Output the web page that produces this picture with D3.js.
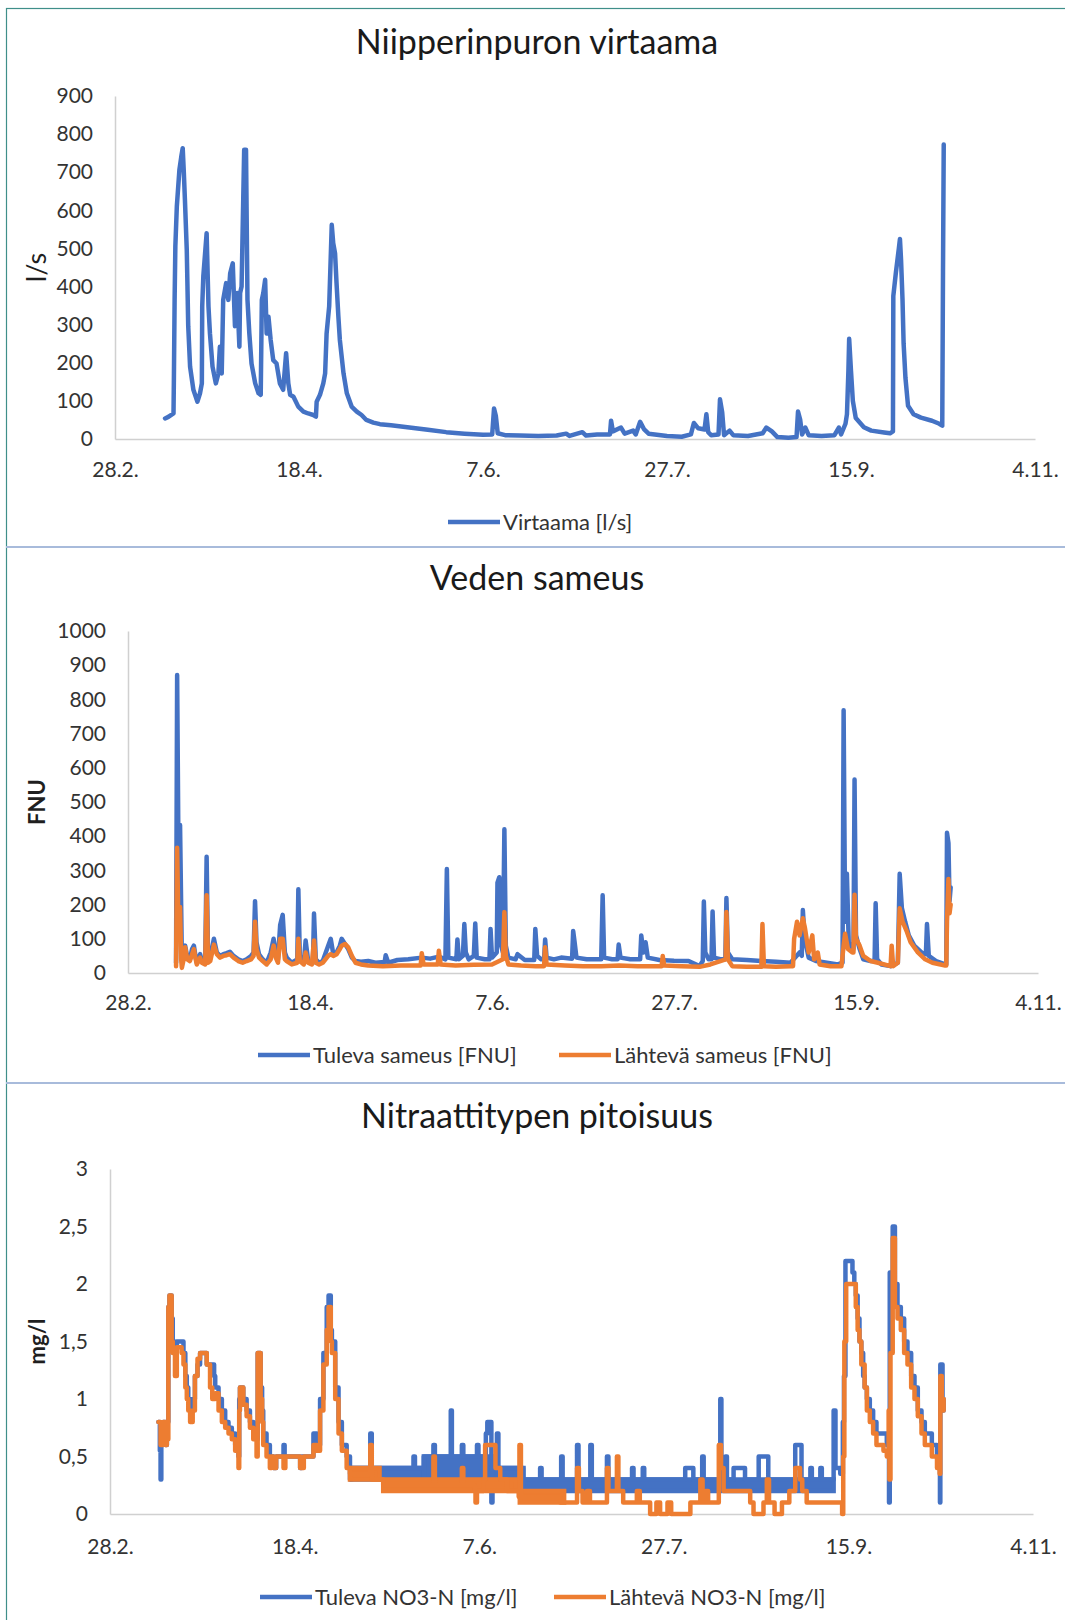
<!DOCTYPE html>
<html>
<head>
<meta charset="utf-8">
<script src="https://cdn.jsdelivr.net/npm/d3@7/dist/d3.min.js"></script>
<style>
  body { margin: 0; background: #fff; }
  svg { display: block; font-family: Lato, 'Open Sans', sans-serif; }
  .axis path, .axis line { stroke: #d0d0d0; stroke-width: 1.5px; }
  .axis text { fill: #333; font-size: 21px; font-family: Lato, sans-serif; }
  .series { fill: none; stroke-linejoin: round; stroke-linecap: round; }
  .title { font-size: 34px; fill: #1a1a1a; text-anchor: middle; }
  .ylabel { fill: #1f1f1f; text-anchor: middle; }
  .legend text { font-size: 22px; fill: #333; }
</style>
</head>
<body>
<script>
// days counted from 28.2. (2020)
var xTickDays   = [0, 50, 100, 150, 200, 250];
var xTickLabels = ['28.2.', '18.4.', '7.6.', '27.7.', '15.9.', '4.11.'];

var flowTicks     = [0, 100, 200, 300, 400, 500, 600, 700, 800, 900];
var turbTicks     = [0, 100, 200, 300, 400, 500, 600, 700, 800, 900, 1000];
var nitrateTicks  = [0, 0.5, 1, 1.5, 2, 2.5, 3];
var nitrateLabels = ['0', '0,5', '1', '1,5', '2', '2,5', '3'];

var titles  = ['Niipperinpuron virtaama', 'Veden sameus', 'Nitraattitypen pitoisuus'];
var yLabels = ['l/s', 'FNU', 'mg/l'];
var seriesNames = ['Virtaama [l/s]', 'Tuleva sameus [FNU]', 'Lähtevä sameus [FNU]',
                   'Tuleva NO3-N [mg/l]', 'Lähtevä NO3-N [mg/l]'];

// [day, l/s]
var flow = [
  [13.6,54],[14.5,58],[15.9,67],[16.0,155],[16.2,365],[16.4,505],[16.8,610],[17.5,706],[18.0,740],[18.4,763],
  [18.7,700],[19.0,628],[19.5,497],[19.9,296],[20.4,190],[21.3,129],[22.4,98],[23.1,120],[23.6,146],[23.7,348],
  [24.0,427],[24.9,540],[25.4,348],[25.8,277],[26.5,190],[27.4,146],[28.1,172],[28.5,242],[29.0,172],[29.4,365],
  [30.2,409],[30.8,365],[31.3,435],[32.0,461],[32.6,296],[33.2,383],[33.8,242],[34.0,383],[34.4,400],[35.1,759],
  [35.6,759],[36.0,365],[36.5,277],[37.1,198],[38.1,146],[39.0,120],[39.6,116],[39.9,365],[40.3,383],[40.8,418],
  [41.2,277],[41.7,321],[42.3,260],[43.0,207],[43.9,198],[44.8,146],[45.7,129],[46.5,225],[47.1,146],[47.6,116],
  [48.5,111],[49.8,85],[51.2,72],[52.5,67],[53.9,63],[54.6,59],[54.8,98],[55.7,116],[56.6,146],[57.1,172],
  [57.5,277],[58.2,348],[58.9,562],[59.3,514],[59.8,487],[60.2,409],[60.7,321],[61.1,260],[62.1,172],[63.0,120],
  [64.3,85],[65.7,72],[67.0,63],[68.3,50],[70.2,43],[72.0,39],[75,36],[80,30],[85,24],[90,18],[95,14],[100,11],
  [102.5,12],[103,80],[103.5,60],[104,15],[106,10],[110,9],[115,8],[120,9],[122.6,14],[123.5,8],[127,18],[128,9],
  [131,12],[134.5,12],[134.8,48],[135.3,20],[137.5,30],[138.5,14],[140.8,22],[141.5,12],[142.7,45],[143.8,25],
  [145,14],[150,8],[154,6],[156.5,12],[157.3,42],[158.5,28],[160.2,25],[160.7,65],[161.2,18],[162,10],[164,12],
  [164.4,104],[165,70],[165.5,10],[167,22],[168,10],[172,8],[176,15],[177,30],[178.5,20],[180,5],[183,3],
  [185.2,5],[185.6,72],[186.2,50],[186.7,12],[187.6,30],[188.5,10],[192,8],[195.5,10],[196.7,30],[197.3,12],
  [198.5,40],[198.9,65],[199.3,180],[199.5,263],[200,178],[200.5,100],[201.3,55],[203.5,31],[205.5,22],[209,17],
  [210.6,15],[211.4,20],[211.5,375],[212.2,437],[213,500],[213.3,525],[213.6,470],[214,365],[214.3,250],[214.8,160],
  [215.5,87],[217,65],[219,56],[222,48],[224,40],[224.8,35],[225.0,440],[225.2,773]
];

// [day, FNU]
var turbIn = [
  [13.2,30],[13.5,871],[13.9,300],[14.3,433],[14.6,200],[14.8,40],[15.3,60],[15.7,80],[16.3,45],[17.0,40],
  [17.6,70],[18.1,80],[18.6,45],[18.9,30],[19.8,55],[20.3,35],[21.2,30],[21.6,340],[22.0,40],[22.6,45],
  [23.6,100],[24.4,60],[25.3,50],[26.2,55],[27.1,58],[28.0,62],[29.0,50],[30.3,40],[31.5,35],[32.6,40],
  [33.8,50],[34.5,60],[34.9,210],[35.3,90],[36.0,55],[37.0,40],[38.1,30],[39.2,60],[40.0,100],[40.6,60],
  [41.2,40],[41.8,140],[42.5,170],[43.1,60],[43.6,45],[45.0,30],[46.5,40],[46.8,245],[47.2,50],[48.3,30],
  [48.8,95],[49.5,35],[50.5,30],[50.8,30],[51.1,174],[51.6,40],[52.5,30],[53.5,35],[55.0,80],[55.7,100],
  [56.4,55],[57.3,60],[58.2,80],[58.7,100],[59.6,85],[60.5,70],[61.5,45],[62.5,35],[64,33],[66,35],
  [68,30],[70.5,32],[70.8,52],[71.5,30],[74,38],[77,40],[80.7,45],[83,42],[85.4,48],[87.2,40],
  [87.6,304],[88.0,45],[90.2,40],[90.5,98],[90.9,40],[92.0,50],[92.4,143],[92.8,60],[93.6,40],[95.0,50],
  [95.4,145],[95.8,45],[98,40],[99.3,40],[99.6,129],[100.0,45],[101.3,60],[101.5,264],[102.0,280],[102.5,80],
  [103.0,60],[103.4,420],[103.8,80],[104.5,45],[106.5,40],[107,55],[109,38],[111.6,38],[111.9,129],[112.4,50],
  [113.5,40],[114.3,40],[114.6,98],[115.0,45],[117,40],[119,45],[122.0,42],[122.3,123],[122.7,90],[123.2,45],
  [126,40],[130.0,40],[130.4,227],[130.8,45],[133,40],[134.5,40],[134.8,83],[135.3,45],[138,40],[140.7,40],
  [141,110],[141.6,60],[142.2,90],[142.8,45],[146,38],[150,36],[154,35],[157,20],[157.9,35],[158.2,209],
  [158.6,60],[159.5,40],[160.3,40],[160.6,180],[161,45],[163,40],[164.1,40],[164.4,219],[164.8,60],[166,40],
  [170,38],[174,35],[178,33],[182,30],[184.5,60],[185.1,50],[185.4,184],[185.9,100],[187,45],[189,35],
  [192,30],[195,25],[196.3,30],[196.6,768],[197,150],[197.5,290],[198,90],[199,70],[199.3,70],[199.6,566],
  [200,110],[201,70],[202,40],[204,35],[205.1,35],[205.4,204],[205.8,40],[207,25],[209.5,20],[211.5,30],
  [212,290],[212.6,190],[213.5,150],[214.5,110],[216,80],[218,60],[219.2,55],[219.5,143],[220,50],[222,35],
  [224.5,25],[224.8,25],[225,410],[225.4,380],[225.7,210],[226,250]
];

var turbOut = [
  [13.2,20],[13.5,366],[13.9,100],[14.3,193],[14.6,40],[14.8,15],[15.3,40],[15.7,75],[16.3,40],[17.0,35],
  [17.6,55],[18.1,70],[18.6,40],[18.9,25],[19.8,45],[20.3,30],[21.2,25],[21.6,227],[22.0,30],[22.6,35],
  [23.6,83],[24.4,55],[25.3,45],[26.2,50],[27.1,52],[28.0,55],[29.0,45],[30.3,35],[31.5,30],[32.6,35],
  [33.8,40],[34.5,50],[34.9,150],[35.3,70],[36.0,45],[37.0,35],[38.1,25],[39.2,40],[40.0,80],[40.6,45],
  [41.2,30],[41.8,100],[42.5,100],[43.1,40],[43.6,35],[45.0,25],[46.5,30],[46.8,100],[47.2,35],[48.3,25],
  [48.8,60],[49.5,30],[50.5,25],[51.1,95],[51.6,30],[52.5,25],[53.5,30],[55.0,50],[55.7,55],[56.4,50],
  [57.3,55],[58.2,70],[58.7,80],[59.6,85],[60.5,75],[61.5,50],[62.5,30],[64,25],[66,22],[70,20],
  [75,22],[80.4,22],[80.7,58],[81.2,25],[85.1,25],[85.4,65],[85.9,25],[90,22],[95,24],[100,25],
  [103.0,40],[103.4,178],[103.8,50],[104.5,25],[108,22],[112,20],[114.3,20],[114.6,75],[115,25],[120,22],
  [125,20],[130,20],[135,22],[140,20],[146.6,20],[146.9,50],[147.3,22],[152,20],[157,18],[160,25],
  [164.2,40],[164.4,178],[164.8,40],[166,20],[170,18],[174.0,18],[174.3,143],[174.7,20],[178,18],[182,20],
  [182.7,20],[183.0,100],[183.8,150],[184.5,110],[185.4,160],[186,130],[187,60],[188,110],[188.5,40],[189.5,60],
  [190,25],[193,20],[196,20],[196.6,80],[197,115],[197.8,70],[199,60],[199.3,60],[199.6,229],[200,100],
  [201,80],[202,50],[204,35],[206,30],[209.5,20],[209.8,80],[210.2,20],[211.5,30],[212,189],[212.8,150],
  [214,120],[215,90],[217,60],[219,40],[221,30],[224.5,22],[224.8,22],[225,150],[225.4,275],[225.7,175],
  [226,200]
];

// [day, mg/l], values hold until the next point
var nitrateIn = [
  [13.1,0.8],[13.5,0.55],[13.7,0.3],[13.9,0.7],[14.4,0.8],[15.0,0.6],[15.4,0.8],[15.8,1.8],[16.1,1.9],[16.7,1.7],
  [17.0,1.5],[17.6,1.4],[18.1,1.5],[19.4,1.5],[19.9,1.4],[20.4,1.2],[20.8,1.1],[21.2,1.0],[21.7,0.9],[22.4,1.0],
  [23.0,1.2],[23.7,1.3],[24.4,1.4],[26.2,1.3],[27.7,1.3],[28.2,1.2],[28.5,1.1],[29.4,1.0],[30.3,0.9],[31.2,0.8],
  [32.1,0.75],[33.0,0.7],[33.9,0.6],[34.8,0.5],[35.0,1.0],[35.2,1.1],[36.1,1.0],[37.0,0.9],[37.9,0.8],[38.8,0.7],
  [39.7,0.65],[40.0,1.4],[40.8,1.1],[41.2,0.9],[41.5,0.7],[42.4,0.6],[43.3,0.5],[44.3,0.4],[45.0,0.5],[47.0,0.6],
  [47.3,0.5],[51.5,0.4],[52.0,0.5],[55.1,0.7],[56.0,0.6],[56.9,1.0],[57.8,1.4],[58.7,1.8],[59.2,1.9],[59.8,1.6],
  [60.1,1.5],[61.0,1.1],[61.9,0.8],[62.8,0.6],[64.1,0.5],[65.0,0.3],[65.5,0.4],[70.3,0.4],[70.5,0.7],[70.9,0.4],
  [82.0,0.4],[82.2,0.5],[82.6,0.4],[85,0.5],[87.4,0.5],[87.6,0.6],[88,0.5],[92.1,0.5],[92.3,0.9],[92.6,0.5],
  [95.1,0.5],[95.3,0.6],[95.7,0.5],[99.2,0.5],[99.4,0.6],[99.8,0.5],[101.8,0.7],[102.2,0.8],[103.0,0.8],[103.3,0.1],
  [103.6,0.5],[104.8,0.7],[105.2,0.4],[111.9,0.3],[116.3,0.3],[116.5,0.4],[116.9,0.3],[122,0.3],[122.2,0.5],[122.6,0.3],
  [126.3,0.3],[126.5,0.6],[126.9,0.3],[129.9,0.3],[130.1,0.6],[130.5,0.3],[134.4,0.3],[134.6,0.5],[135,0.3],[141.2,0.3],
  [141.4,0.4],[141.8,0.3],[144.3,0.4],[144.7,0.3],[155.8,0.4],[158,0.3],[160.4,0.5],[160.8,0.3],[165.1,0.3],[165.3,1.0],
  [165.6,0.4],[166.7,0.5],[167.1,0.3],[168.9,0.4],[172,0.3],[175.7,0.5],[178.3,0.3],[185.6,0.6],[187.3,0.3],[189.7,0.4],
  [190.1,0.3],[192.4,0.4],[192.8,0.3],[196.0,0.9],[196.5,0.4],[197.8,0.35],[198.5,0.8],[198.8,1.2],[199.2,2.2],[200.8,2.2],
  [201.1,2.1],[201.6,2.0],[202.0,1.9],[202.5,1.7],[203.0,1.5],[203.5,1.4],[204.0,1.2],[204.4,1.1],[205.0,1.0],[205.8,0.9],
  [206.7,0.8],[207.6,0.7],[209.5,0.7],[210.4,0.6],[211.0,0.1],[211.2,2.1],[212.0,2.5],[212.6,2.0],[213.3,1.8],[214.2,1.7],
  [215.1,1.5],[216.0,1.4],[217.0,1.2],[217.9,1.1],[218.8,0.9],[219.8,0.8],[220.7,0.7],[222.6,0.6],[224.0,0.5],[224.6,0.4],
  [224.8,0.1],[224.9,1.3],[225.5,1.0],[225.8,0.9]
];

var nitrateOut = [
  [13.1,0.8],[13.7,0.6],[14.4,0.8],[15.0,0.6],[15.4,0.65],[15.8,1.8],[16.1,1.9],[16.7,1.5],[17.0,1.4],[17.6,1.2],
  [18.1,1.45],[19.4,1.4],[19.9,1.3],[20.4,1.1],[20.8,1.0],[21.2,0.9],[21.7,0.8],[22.4,0.9],[23.0,1.2],[23.7,1.35],
  [24.4,1.4],[26.2,1.3],[27.1,1.1],[27.7,1.0],[28.5,1.05],[29.4,0.9],[30.3,0.8],[31.2,0.75],[32.1,0.7],[33.0,0.65],
  [33.9,0.55],[34.8,0.4],[35.0,0.9],[35.2,1.1],[36.1,0.95],[37.0,0.85],[37.9,0.75],[38.8,0.65],[39.7,0.5],[40.0,1.4],
  [40.8,1.0],[41.2,0.8],[41.5,0.6],[42.4,0.5],[43.3,0.4],[43.8,0.5],[44.3,0.4],[45,0.5],[47,0.4],[47.5,0.5],
  [51.5,0.4],[52.5,0.5],[55.1,0.6],[56.0,0.55],[56.9,0.9],[57.8,1.3],[58.7,1.6],[59.2,1.8],[59.8,1.5],[60.1,1.4],
  [61.0,1.0],[61.9,0.7],[62.8,0.55],[64.1,0.4],[65,0.35],[70.3,0.35],[70.5,0.6],[70.9,0.3],[74,0.25],[87.4,0.25],
  [87.6,0.5],[88,0.25],[95.1,0.25],[95.3,0.4],[95.7,0.25],[98.8,0.2],[99.0,0.1],[99.4,0.2],[101.2,0.3],[101.6,0.6],
  [104.0,0.6],[104.4,0.4],[105.7,0.3],[107.5,0.2],[110.7,0.15],[110.9,0.6],[111.3,0.15],[122,0.1],[126.3,0.1],[126.5,0.4],
  [127,0.2],[128,0.1],[129.2,0.2],[130,0.1],[134.4,0.1],[134.6,0.4],[135,0.2],[137.1,0.2],[137.3,0.5],[137.7,0.2],
  [139,0.1],[142.7,0.2],[143.5,0.1],[146.3,0.0],[148,0.1],[149,0.0],[151,0.1],[152,0.0],[157.2,0.1],[159.9,0.3],
  [160.5,0.1],[161.3,0.2],[162,0.1],[164.9,0.6],[165.5,0.4],[166.2,0.2],[173.4,0.1],[174.3,0.0],[177,0.1],[177.9,0.3],
  [178.5,0.1],[180,0.0],[182,0.1],[184,0.2],[185.6,0.4],[186.9,0.3],[187.5,0.2],[188.7,0.1],[198.3,0.0],[198.6,0.5],
  [198.9,1.5],[199.4,2.0],[201.6,2.0],[202.0,1.8],[202.5,1.6],[203.0,1.5],[203.5,1.3],[204.4,1.1],[205.0,0.9],[205.8,0.8],
  [206.7,0.7],[207.6,0.6],[209.5,0.55],[210.4,0.5],[210.9,0.9],[211.1,0.3],[211.4,1.4],[212.0,2.4],[212.6,1.8],[213.3,1.7],
  [214.2,1.6],[215.1,1.4],[216.0,1.3],[217.0,1.1],[217.9,1.0],[218.8,0.85],[219.8,0.7],[220.7,0.6],[222.6,0.5],[224.0,0.4],
  [224.7,0.35],[224.9,1.2],[225.3,0.9],[225.8,1.0]
];

// ranges where the readings flicker between two steps: [fromDay, toDay, low, high]
var nitrateInBands  = [[65.5,85,0.3,0.4],[85,105,0.3,0.5],[105,112,0.3,0.4],[112,196,0.2,0.3]];
var nitrateOutBands = [[65,73,0.3,0.4],[74,110,0.2,0.3],[111,123,0.1,0.2]];

var blue = '#4472c4', orange = '#ed7d31';
var lineWidth = 4.5;

function drawPanel (svg, p) {
  var x = d3.scaleLinear().domain([0, 250]).range([p.left, p.right]);
  var y = d3.scaleLinear().domain([0, p.yTicks[p.yTicks.length - 1]]).range([p.bottom, p.top]);

  svg.append('text')
    .attr('class', 'title')
    .attr('x', 537)
    .attr('y', p.titleY)
    .attr('dy', '.35em')
    .text(p.title);

  svg.append('text')
    .attr('class', 'ylabel')
    .attr('transform', 'translate(37,' + ((p.top + p.bottom) / 2) + ') rotate(-90)')
    .attr('dy', '.35em')
    .style('font-size', p.yLabelSize + 'px')
    .style('font-weight', p.yLabelBold ? 700 : 400)
    .text(p.yLabel);

  var yAxis = d3.axisLeft(y).tickValues(p.yTicks).tickSize(0).tickPadding(22)
    .tickFormat(function (d, i) { return p.yTickLabels[i]; });
  var xAxis = d3.axisBottom(x).tickValues(xTickDays).tickSize(0).tickPadding(p.xPad)
    .tickFormat(function (d, i) { return xTickLabels[i]; });

  svg.append('g').attr('class', 'y axis').attr('transform', 'translate(' + p.left + ',0)').call(yAxis);
  svg.append('g').attr('class', 'x axis').attr('transform', 'translate(0,' + p.bottom + ')').call(xAxis);

  p.series.forEach(function (s) {
    svg.append('g').selectAll('rect')
      .data(s.bands || [])
      .enter().append('rect')
      .attr('x', function (b) { return x(b[0]); })
      .attr('width', function (b) { return x(b[1]) - x(b[0]); })
      .attr('y', function (b) { return y(b[3]); })
      .attr('height', function (b) { return y(b[2]) - y(b[3]); })
      .attr('fill', s.color)
      .attr('stroke', s.color)
      .attr('stroke-width', lineWidth);

    var line = d3.line()
      .x(function (d) { return x(d[0]); })
      .y(function (d) { return y(d[1]); })
      .curve(s.step ? d3.curveStepAfter : d3.curveLinear);

    svg.append('path')
      .datum(s.values)
      .attr('class', 'series')
      .attr('stroke', s.color)
      .attr('stroke-width', lineWidth)
      .attr('d', line);
  });

  var legend = svg.append('g').attr('class', 'legend');
  p.series.forEach(function (s, i) {
    var lx = p.legendX[i];
    legend.append('line')
      .attr('x1', lx).attr('x2', lx + 52)
      .attr('y1', p.legendY).attr('y2', p.legendY)
      .attr('stroke', s.color).attr('stroke-width', lineWidth);
    legend.append('text')
      .attr('x', lx + 55)
      .attr('y', p.legendY)
      .attr('dy', '.35em')
      .text(s.name);
  });
}

var svg = d3.select('body').append('svg')
  .attr('width', 1065)
  .attr('height', 1620);

svg.append('rect')
  .attr('x', 6.5).attr('y', 8.5)
  .attr('width', 1100).attr('height', 1700)
  .attr('fill', 'none').attr('stroke', '#3f8f8a').attr('stroke-width', 1.2);

[547, 1083].forEach(function (sy) {
  svg.append('line')
    .attr('x1', 6).attr('x2', 1065)
    .attr('y1', sy).attr('y2', sy)
    .attr('stroke', '#a8bbdb').attr('stroke-width', 2);
});

var panels = [
  { title: titles[0], yLabel: yLabels[0], yLabelBold: false, yLabelSize: 27,
    yTicks: flowTicks, yTickLabels: flowTicks.map(String),
    left: 115, right: 1035, top: 96, bottom: 439, titleY: 42, xPad: 23,
    legendY: 522, legendX: [448],
    series: [{ name: seriesNames[0], color: blue, values: flow }] },
  { title: titles[1], yLabel: yLabels[1], yLabelBold: true, yLabelSize: 22,
    yTicks: turbTicks, yTickLabels: turbTicks.map(String),
    left: 128, right: 1038, top: 631, bottom: 973, titleY: 578, xPad: 22,
    legendY: 1055, legendX: [258, 559],
    series: [{ name: seriesNames[1], color: blue, values: turbIn },
             { name: seriesNames[2], color: orange, values: turbOut }] },
  { title: titles[2], yLabel: yLabels[2], yLabelBold: true, yLabelSize: 22,
    yTicks: nitrateTicks, yTickLabels: nitrateLabels,
    left: 110, right: 1033, top: 1169, bottom: 1514, titleY: 1116, xPad: 25,
    legendY: 1597, legendX: [260, 554],
    series: [{ name: seriesNames[3], color: blue, values: nitrateIn, bands: nitrateInBands, step: true },
             { name: seriesNames[4], color: orange, values: nitrateOut, bands: nitrateOutBands, step: true }] }
];

panels.forEach(function (p) { drawPanel(svg, p); });
</script>
</body>
</html>
